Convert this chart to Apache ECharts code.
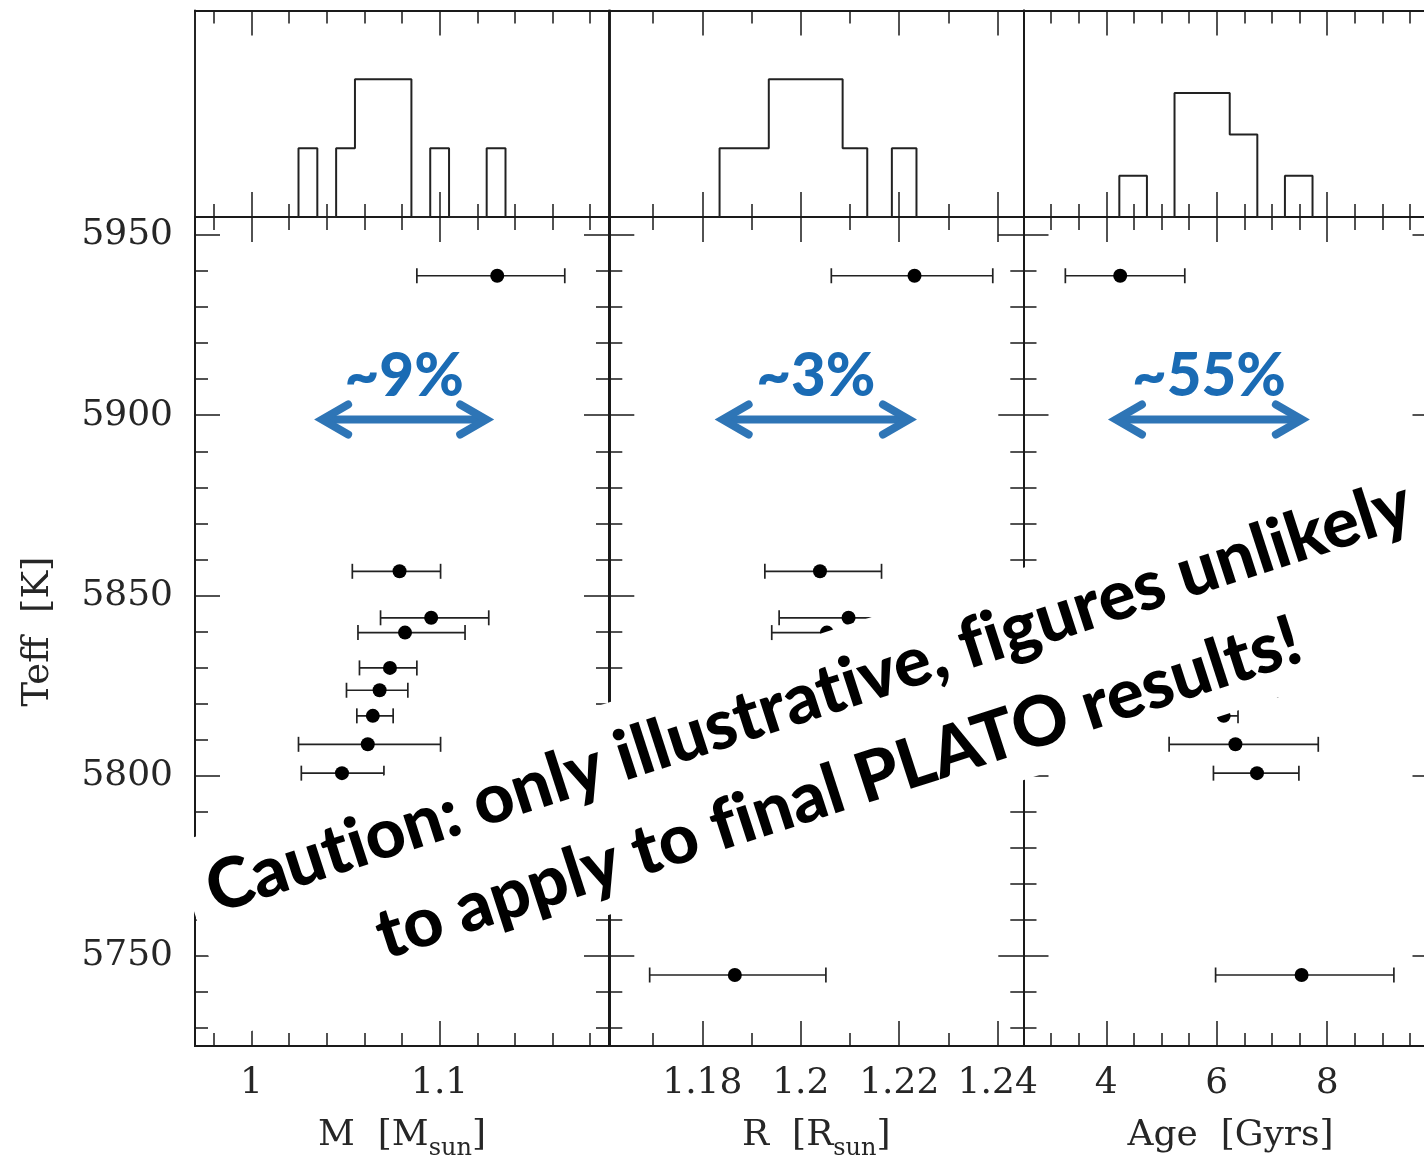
<!DOCTYPE html>
<html>
<head>
<meta charset="utf-8">
<script src="https://cdn.jsdelivr.net/npm/echarts@6/dist/echarts.min.js"></script>
<style>
  html, body { margin: 0; padding: 0; background: #fff; }
  #chart { width: 1424px; height: 1159px; }
</style>
</head>
<body>
<div id="chart"></div>
<script>
// Effective temperature of each star against its inferred mass, radius and age
const teff = [5938.7, 5856.7, 5843.8, 5839.7, 5829.9, 5823.7, 5816.6, 5808.7, 5800.7, 5744.7];

const mass   = [1.1306, 1.0787, 1.0955, 1.0816, 1.0736, 1.0681, 1.0645, 1.0618, 1.0481, 1.030];
const massLo = [1.0879, 1.0536, 1.0686, 1.0566, 1.0574, 1.0505, 1.0560, 1.0250, 1.0265, 1.005];
const massHi = [1.1665, 1.1005, 1.1261, 1.1135, 1.0879, 1.0831, 1.0753, 1.1005, 1.0704, 1.058];

const radius   = [1.2231, 1.2039, 1.2097, 1.2053, 1.2010, 1.1960, 1.2000, 1.1950, 1.1910, 1.1866];
const radiusLo = [1.2062, 1.1927, 1.1956, 1.1941, 1.1900, 1.1870, 1.1890, 1.1850, 1.1810, 1.1693];
const radiusHi = [1.2390, 1.2164, 1.2238, 1.2165, 1.2120, 1.2070, 1.2090, 1.2050, 1.2010, 1.2051];

const age   = [4.252, 5.55, 5.90, 5.45, 5.65, 5.85, 6.127, 6.339, 6.73, 7.538];
const ageLo = [3.258, 4.40, 4.80, 4.30, 4.50, 4.90, 5.400, 5.138, 5.941, 5.980];
const ageHi = [5.422, 6.70, 7.00, 6.60, 6.80, 7.10, 6.386, 7.840, 7.489, 9.210];

// Histogram bins: first bin edge, bin width, counts per bin
const massBinStart = 1.025,  massBinWidth = 0.01,  massCounts = [1, 0, 1, 2, 2, 2, 0, 1, 0, 0, 1];
const radiusBinStart = 1.1835, radiusBinWidth = 0.005, radiusCounts = [1, 1, 2, 2, 2, 1, 0, 1];
const ageBinStart = 4.236,   ageBinWidth = 0.5,   ageCounts = [1, 0, 3, 3, 2, 0, 1];

// Spread arrows (from, to) drawn at one temperature, with their labels
const massSpread = [1.0333, 1.129];
const radiusSpread = [1.1825, 1.2236];
const ageSpread = [4.03, 7.688];
const spreadTeff = 5898.8;
const spreadLabels = ['~9%', '~3%', '~55%'];

// Tick values
const teffMajor = [5750, 5800, 5850, 5900, 5950];
const massMajor = [1.0, 1.1];
const radiusMajor = [1.18, 1.2, 1.22, 1.24];
const ageMajor = [4, 6, 8];

function steps(a, b, step) {
  const out = [];
  for (let k = 0; a + k * step <= b + step * 1e-6; k++) out.push(Math.round((a + k * step) * 1e6) / 1e6);
  return out;
}
function without(list, majors) {
  return list.filter(v => !majors.some(m => Math.abs(m - v) < 1e-9));
}
const teffMinor = without(steps(5730, 5950, 10), teffMajor);
const massMinor = without(steps(0.98, 1.18, 0.02), massMajor);
const radiusMinor = without(steps(1.17, 1.24, 0.01), radiusMajor);
const ageMinor = without(steps(3, 9.5, 0.5), ageMajor);

function stepOutline(start, width, counts) {
  const pts = [[start, 0]];
  let prev = 0;
  counts.forEach((c, i) => {
    const a = start + i * width, b = a + width;
    pts.push([a, prev], [a, c], [b, c]);
    prev = c;
  });
  pts.push([start + counts.length * width, 0]);
  return pts;
}

const INK = '#1a1a1a';
const LABEL_FONT = 'DejaVu Serif';
const TEFF_MIN = 5725, TEFF_MAX = 5955;
const PANEL_W = 414;

const panels = [
  { left: 195, min: 0.97, max: 1.19, major: massMajor, minor: massMinor,
    unit: ['M  [M', 'sun', ']'], x: mass, lo: massLo, hi: massHi,
    bins: [massBinStart, massBinWidth, massCounts], histMax: 3, spread: massSpread },
  { left: 609.3, min: 1.1611, max: 1.2452, major: radiusMajor, minor: radiusMinor,
    unit: ['R  [R', 'sun', ']'], x: radius, lo: radiusLo, hi: radiusHi,
    bins: [radiusBinStart, radiusBinWidth, radiusCounts], histMax: 3, spread: radiusSpread },
  { left: 1023.5, min: 2.5, max: 10.0, major: ageMajor, minor: ageMinor,
    unit: ['Age  [Gyrs]', '', ''], x: age, lo: ageLo, hi: ageHi,
    bins: [ageBinStart, ageBinWidth, ageCounts], histMax: 5, spread: ageSpread }
];

const grids = [], xAxes = [], yAxes = [], series = [];

function axisBase(gridIndex, min, max, position, ticks, len) {
  return {
    type: 'value', gridIndex, min, max, position,
    axisLine: { show: true, onZero: false, lineStyle: { color: INK, width: 1.9 } },
    axisTick: ticks.length
      ? { show: true, inside: true, length: len, customValues: ticks, lineStyle: { color: INK, width: 1.5 } }
      : { show: false },
    axisLabel: { show: false },
    splitLine: { show: false },
    minorTick: { show: false },
    axisPointer: { show: false }
  };
}
function addX(ax) { xAxes.push(ax); return xAxes.length - 1; }
function addY(ax) { yAxes.push(ax); return yAxes.length - 1; }

const tickLabel = { show: true, color: '#262626', fontFamily: LABEL_FONT, fontSize: 36, formatter: v => String(v) };
const scatterSeriesIdx = [];

panels.forEach((p, i) => {
  const gS = grids.length;
  grids.push({ left: p.left, top: 217, width: PANEL_W, height: 829, containLabel: false, outerBoundsMode: 'none' });
  const gH = grids.length;
  grids.push({ left: p.left, top: 10.5, width: PANEL_W, height: 206.5, containLabel: false, outerBoundsMode: 'none' });

  // lower panel: frame with inward ticks on all four sides
  const bottom = axisBase(gS, p.min, p.max, 'bottom', p.major, 25);
  bottom.axisLabel = Object.assign({}, tickLabel, { customValues: p.major, margin: 20 });
  bottom.name = p.unit[1]
    ? '{a|' + p.unit[0] + '}{s|' + p.unit[1] + '}{a|' + p.unit[2] + '}'
    : '{a|' + p.unit[0] + '}';
  bottom.nameLocation = 'middle';
  bottom.nameGap = 65;
  bottom.nameTextStyle = {
    rich: {
      a: { fontFamily: LABEL_FONT, fontSize: 36, color: '#262626', lineHeight: 50 },
      s: { fontFamily: LABEL_FONT, fontSize: 24, color: '#262626', verticalAlign: 'bottom', lineHeight: 28 }
    }
  };
  const xb = addX(bottom);
  addX(axisBase(gS, p.min, p.max, 'bottom', p.minor, 13));
  addX(axisBase(gS, p.min, p.max, 'top', p.major, 25));
  addX(axisBase(gS, p.min, p.max, 'top', p.minor, 13));

  const left = axisBase(gS, TEFF_MIN, TEFF_MAX, 'left', teffMajor, 25);
  if (i === 0) {
    left.axisLabel = Object.assign({}, tickLabel, { customValues: teffMajor, margin: 22 });
    left.name = 'Teff  [K]';
    left.nameLocation = 'middle';
    left.nameGap = 138;
    left.nameTextStyle = { fontFamily: LABEL_FONT, fontSize: 37, color: '#262626' };
  }
  const yl = addY(left);
  addY(axisBase(gS, TEFF_MIN, TEFF_MAX, 'left', teffMinor, 13));
  addY(axisBase(gS, TEFF_MIN, TEFF_MAX, 'right', teffMajor, 25));
  addY(axisBase(gS, TEFF_MIN, TEFF_MAX, 'right', teffMinor, 13));

  // upper panel: histogram frame
  const hx = addX(axisBase(gH, p.min, p.max, 'bottom', p.major, 25));
  addX(axisBase(gH, p.min, p.max, 'bottom', p.minor, 13));
  addX(axisBase(gH, p.min, p.max, 'top', p.major, 25));
  addX(axisBase(gH, p.min, p.max, 'top', p.minor, 13));
  const hy = addY(axisBase(gH, 0, p.histMax, 'left', [], 0));
  addY(axisBase(gH, 0, p.histMax, 'right', [], 0));

  series.push({
    type: 'line', xAxisIndex: hx, yAxisIndex: hy,
    data: stepOutline(p.bins[0], p.bins[1], p.bins[2]),
    symbol: 'none', silent: true,
    lineStyle: { color: '#222', width: 2 }
  });

  series.push({
    type: 'custom', xAxisIndex: xb, yAxisIndex: yl,
    dimensions: ['x', 'y', 'lo', 'hi'],
    encode: { x: 0, y: 1 },
    data: p.x.map((v, k) => [v, teff[k], p.lo[k], p.hi[k]]),
    silent: true,
    renderItem: function (params, api) {
      const y = api.value(1);
      const a = api.coord([api.value(2), y]);
      const b = api.coord([api.value(3), y]);
      const st = { stroke: '#222', lineWidth: 1.7 };
      const cap = 7.5;
      return {
        type: 'group',
        children: [
          { type: 'line', shape: { x1: a[0], y1: a[1], x2: b[0], y2: b[1] }, style: st },
          { type: 'line', shape: { x1: a[0], y1: a[1] - cap, x2: a[0], y2: a[1] + cap }, style: st },
          { type: 'line', shape: { x1: b[0], y1: b[1] - cap, x2: b[0], y2: b[1] + cap }, style: st }
        ]
      };
    }
  });

  scatterSeriesIdx.push(series.length);
  series.push({
    type: 'scatter', xAxisIndex: xb, yAxisIndex: yl,
    data: p.x.map((v, k) => [v, teff[k]]),
    symbol: 'circle', symbolSize: 14, silent: true,
    itemStyle: { color: '#000', opacity: 1 }
  });
});

const chart = echarts.init(document.getElementById('chart'), null, { renderer: 'canvas' });
chart.setOption({
  backgroundColor: '#fff',
  animation: false,
  grid: grids,
  xAxis: xAxes,
  yAxis: yAxes,
  series: series
});

// Spread arrows and the caution banner
const ARROW = '#2E75B6';
const graphics = [];
panels.forEach((p, i) => {
  const s = scatterSeriesIdx[i];
  const L = chart.convertToPixel({ seriesIndex: s }, [p.spread[0], spreadTeff]);
  const R = chart.convertToPixel({ seriesIndex: s }, [p.spread[1], spreadTeff]);
  const y = L[1];
  const xl = L[0] + 8, xr = R[0] - 8;
  const arrowStyle = { stroke: ARROW, lineWidth: 8, fill: null, lineJoin: 'miter', miterLimit: 10, lineCap: 'round' };
  graphics.push({
    type: 'group', z: 50,
    children: [
      { type: 'line', z: 50, shape: { x1: xl + 4, y1: y, x2: xr - 4, y2: y }, style: { stroke: ARROW, lineWidth: 8 } },
      { type: 'polyline', z: 50, shape: { points: [[xl + 26, y - 15], [xl, y], [xl + 26, y + 15]] }, style: arrowStyle },
      { type: 'polyline', z: 50, shape: { points: [[xr - 26, y - 15], [xr, y], [xr - 26, y + 15]] }, style: arrowStyle }
    ]
  });
  graphics.push({
    type: 'text', z: 50,
    x: (L[0] + R[0]) / 2, y: y - 13,
    style: {
      text: spreadLabels[i], align: 'center', verticalAlign: 'bottom',
      fontFamily: 'Lato', fontWeight: 900, fontSize: 60, fill: '#1A6BB4'
    }
  });
});

// zero-width non-joiners keep "fi" and "ti" as separate glyphs
function plainGlyphs(s) { return s.replace(/([ft])(i)/g, '$1\u200C$2'); }
graphics.push({
  type: 'group', x: 824.5, y: 738.6, rotation: 18 * Math.PI / 180, z: 100,
  children: [
    { type: 'rect', z: 100, shape: { x: -653, y: -101, width: 1306, height: 202 }, style: { fill: '#fff' } },
    { type: 'text', z: 101, x: -2, y: 4,
      style: {
        text: plainGlyphs('Caution: only illustrative, figures unlikely\nto apply to final PLATO results!'),
        align: 'center', verticalAlign: 'middle',
        fontFamily: 'Lato', fontWeight: 900, fontSize: 69.5, lineHeight: 96, fill: '#000'
      } }
  ]
});

chart.setOption({ graphic: graphics });
</script>
</body>
</html>
